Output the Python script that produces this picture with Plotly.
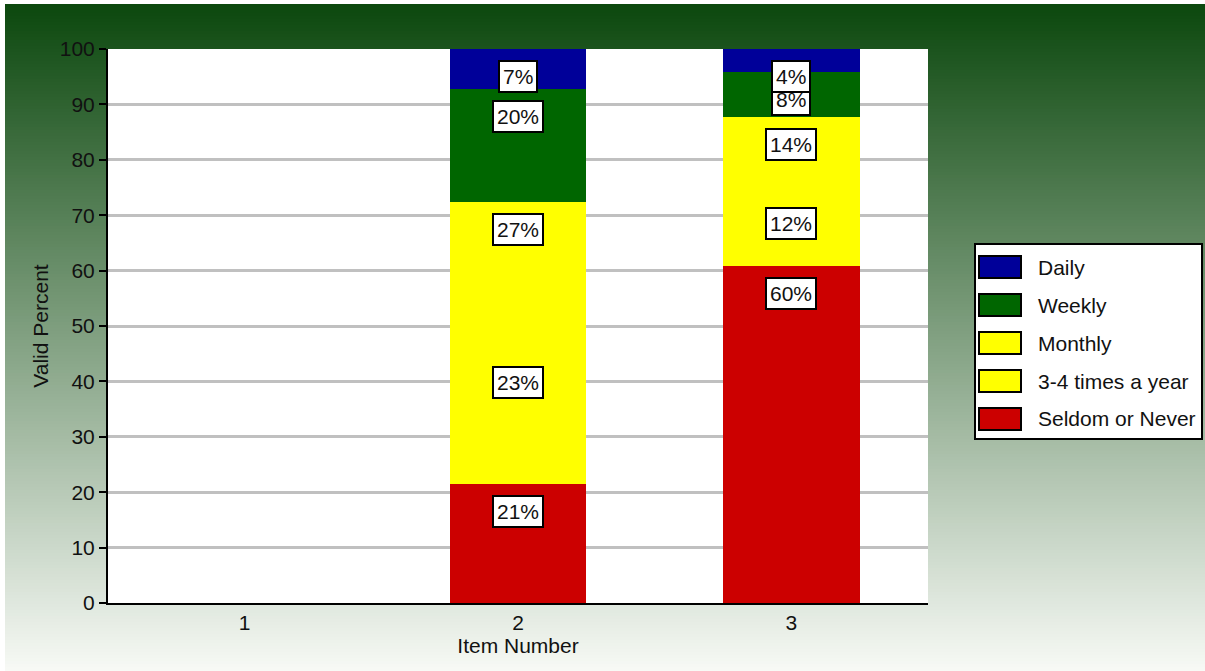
import math
import plotly.graph_objects as go

# ---------------- data ----------------
items = [1, 2, 3]
item_labels = ["1", "2", "3"]
series_names = ["Seldom or Never", "3-4 times a year", "Monthly", "Weekly", "Daily"]
seldom = [None, 21.4, 60.9]
three_four = [None, 23.3, 12.6]
monthly = [None, 27.6, 14.3]
weekly = [None, 20.4, 8.1]
daily = [None, 7.3, 4.1]
series_values = [seldom, three_four, monthly, weekly, daily]
series_colors = ["#cc0000", "#ffff00", "#ffff00", "#006600", "#000099"]

# ---------------- layout geometry (pixels) ----------------
W, H = 1205, 671
L, R, T, B = 108, 928, 49, 603
PW, PH = R - L, B - T


def px_x(px):
    return (px - L) / PW


def px_y(py):
    return (B - py) / PH


FONT = "Liberation Sans, Arial, sans-serif"
TXT = "#111111"
FS = 21

fig = go.Figure()

for name, vals, col in zip(series_names, series_values, series_colors):
    fig.add_trace(go.Bar(
        x=items, y=vals, name=name, width=0.5,
        marker=dict(color=col, line=dict(width=0)),
        showlegend=False, hoverinfo="x+y+name",
    ))

# ---------------- value labels (boxed) ----------------
annotations = []
cum = [0.0] * len(items)
for vals in series_values:
    for i, v in enumerate(vals):
        if v is None:
            continue
        cum[i] = round(cum[i] + v, 6)
        annotations.append(dict(
            x=items[i], y=min(cum[i], 100), xref="x", yref="y",
            text=f"{math.floor(v)}%", showarrow=False,
            yanchor="top", xanchor="center", yshift=-11,
            bgcolor="white", bordercolor="black", borderwidth=2, borderpad=3,
            font=dict(family=FONT, size=FS, color=TXT),
        ))

# ---------------- background gradient ----------------
shapes = []
top_px, left_px = 4, 5
c0 = (12, 72, 14)
c1 = (248, 250, 246)
step = 3
y = top_px
while y < H:
    t = (y - top_px) / (H - top_px)
    col = tuple(round(a + (b - a) * t) for a, b in zip(c0, c1))
    shapes.append(dict(
        type="rect", xref="paper", yref="paper", layer="below",
        x0=px_x(left_px), x1=px_x(W + 2), y0=px_y(min(y + step + 1, H + 2)), y1=px_y(y),
        fillcolor=f"rgb{col}", line=dict(width=0),
    ))
    y += step

# white plot area
shapes.append(dict(type="rect", xref="paper", yref="paper", layer="below",
                   x0=0, x1=1, y0=0, y1=1, fillcolor="white", line=dict(width=0)))

# ---------------- custom legend ----------------
lg_x0, lg_x1, lg_y0, lg_y1 = 975, 1202, 244, 439
shapes.append(dict(type="rect", xref="paper", yref="paper", layer="above",
                   x0=px_x(lg_x0), x1=px_x(lg_x1), y0=px_y(lg_y1), y1=px_y(lg_y0),
                   fillcolor="white", line=dict(color="black", width=2)))
for k, idx in enumerate(reversed(range(len(series_names)))):
    sy = 256 + 38 * k
    shapes.append(dict(type="rect", xref="paper", yref="paper", layer="above",
                       x0=px_x(979), x1=px_x(1021), y0=px_y(sy + 22), y1=px_y(sy),
                       fillcolor=series_colors[idx], line=dict(color="black", width=2)))
    annotations.append(dict(
        x=px_x(1036), y=px_y(sy + 11), xref="paper", yref="paper",
        text=series_names[idx], showarrow=False, xanchor="left", yanchor="middle",
        font=dict(family=FONT, size=FS, color=TXT),
    ))

fig.update_layout(
    width=W, height=H,
    margin=dict(l=L, r=W - R, t=T, b=H - B, pad=0),
    paper_bgcolor="white", plot_bgcolor="white",
    barmode="stack", showlegend=False,
    font=dict(family=FONT, size=FS, color=TXT),
    shapes=shapes, annotations=annotations,
    xaxis=dict(
        range=[0.5, 3.5], tickvals=items, ticktext=item_labels,
        showgrid=False, zeroline=False, showline=True, linecolor="black", linewidth=2,
        ticks="", tickfont=dict(size=FS, color=TXT),
        title=dict(text="Item Number", font=dict(size=FS, color=TXT), standoff=2),
    ),
    yaxis=dict(
        range=[0, 100], dtick=10, tick0=0,
        showgrid=True, gridcolor="#c0c0c0", gridwidth=3, zeroline=False,
        showline=True, linecolor="black", linewidth=2,
        ticks="outside", ticklen=7, tickwidth=2, tickcolor="black",
        tickfont=dict(size=FS, color=TXT),
        title=dict(text="Valid Percent", font=dict(size=FS, color=TXT), standoff=5),
    ),
)

fig.write_html(
    "out.html",
    config={"displayModeBar": False},
    post_script="document.body.style.margin='0';document.body.style.overflow='hidden';",
)
